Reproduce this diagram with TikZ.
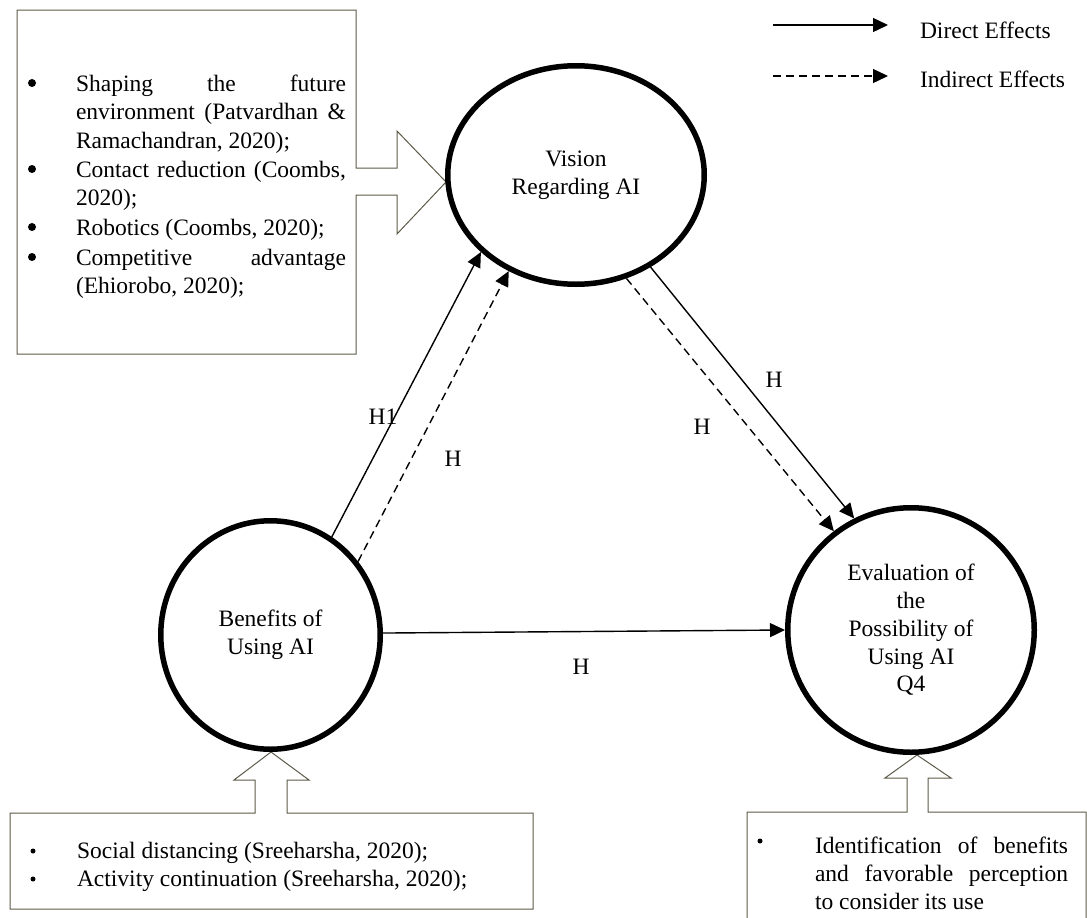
\documentclass[tikz,border=0pt]{standalone}
\usepackage{fontspec}
\setmainfont{Liberation Serif}
\usetikzlibrary{shapes.geometric,arrows.meta}
\definecolor{boxline}{HTML}{5E5A48}
\begin{document}
\begin{tikzpicture}[x=1pt,y=-1pt,
  every node/.style={inner sep=0pt, outer sep=0pt},
  txt/.style={font=\fontsize{23.5}{27.5}\selectfont, anchor=base west},
  bigbullet/.style={circle, fill=black, minimum size=8pt},
  smallbullet/.style={circle, fill=black, minimum size=5pt},
  construct/.style={ellipse, draw, line width=5.5pt, outer sep=2.75pt, align=center,
    font=\fontsize{23.5}{27.7}\selectfont},
  callout/.style={draw=boxline, line width=1pt, line join=miter},
  conn/.style={line width=1.4pt, -{Triangle[length=15pt,width=14pt]}},
  indirect/.style={conn, dash pattern=on 8pt off 5pt},
  lbl/.style={font=\fontsize{23.5}{27.5}\selectfont},
]
\fill[white] (0,0) rectangle (1087,918);
\useasboundingbox (0,0) rectangle (1087,918);

% callout boxes with block arrows
\draw[callout] (17,10) -- (356,10) -- (356,168) -- (397,168) -- (397,131) -- (446,182)
  -- (397,234) -- (397,195) -- (356,195) -- (356,354) -- (17,354) -- cycle;
\draw[callout] (10,813) -- (255,813) -- (255,780) -- (234,780) -- (271,752) -- (309,780)
  -- (287,780) -- (287,813) -- (533,813) -- (533,909) -- (10,909) -- cycle;
\draw[callout] (747,930) -- (747,812) -- (907,812) -- (907,778) -- (885,778) -- (917,755)
  -- (951,778) -- (928,778) -- (928,812) -- (1086,812) -- (1086,930);

% top-left box text
\node[bigbullet] (tb1) at (32,83) {};
\node[bigbullet] (tb2) at (32,169) {};
\node[bigbullet] (tb3) at (32,227) {};
\node[bigbullet] (tb4) at (32,257) {};
\node[txt] (tl1) at (76,91) {\makebox[270pt][s]{Shaping the future}};
\node[txt] (tl2) at (76,119) {\makebox[270pt][s]{environment (Patvardhan \&}};
\node[txt] (tl3) at (76,148) {Ramachandran, 2020);};
\node[txt] (tl4) at (76,177) {\makebox[270pt][s]{Contact reduction (Coombs,}};
\node[txt] (tl5) at (76,205) {2020);};
\node[txt] (tl6) at (76,235) {Robotics (Coombs, 2020);};
\node[txt] (tl7) at (76,265) {\makebox[270pt][s]{Competitive advantage}};
\node[txt] (tl8) at (76,293) {(Ehiorobo, 2020);};

% bottom-left box text
\node[smallbullet] (bb1) at (33,851) {};
\node[smallbullet] (bb2) at (33,879) {};
\node[txt] (bl1) at (77,858) {Social distancing (Sreeharsha, 2020);};
\node[txt] (bl2) at (77,886) {Activity continuation (Sreeharsha, 2020);};

% bottom-right box text
\node[smallbullet] (rb1) at (760,841) {};
\node[txt] (rl1) at (815,853) {\makebox[253pt][s]{Identification of benefits}};
\node[txt] (rl2) at (815,881) {\makebox[253pt][s]{and favorable perception}};
\node[txt] (rl3) at (815,909) {to consider its use};

% constructs
\node[construct, minimum width=256.5pt, minimum height=218.5pt] (vis) at (576,175) {Vision\\Regarding AI};
\node[construct, minimum width=219.5pt, minimum height=228.5pt] (ben) at (270.5,635) {Benefits of\\Using AI};
\node[construct, minimum width=246.5pt, minimum height=244.5pt] (eva) at (911,630) {Evaluation of\\the\\Possibility of\\Using AI\\Q4};

% connectors
\draw[conn] (ben.58.9) -- (vis.219.8);
\draw[indirect] (ben.40.1) -- (vis.235.4);
\draw[conn] (vis.309.4) -- (eva.117.8);
\draw[indirect] (vis.296.8) -- (eva.128.2);
\draw[conn] (ben.1.5) -- (eva.180);

% labels
\node[lbl] (h1) at (383,417) {H1};
\node[lbl] (h2) at (453,459) {H};
\node[lbl] (h3) at (774,380) {H};
\node[lbl] (h4) at (702,427) {H};
\node[lbl] (h5) at (581,667) {H};

% legend
\coordinate (d1) at (773,25);
\coordinate (d2) at (888,25);
\coordinate (i1) at (773,76);
\coordinate (i2) at (888,76);
\draw[conn] (d1) -- (d2);
\draw[indirect] (i1) -- (i2);
\node[txt] (dl) at (920,38) {Direct Effects};
\node[txt] (il) at (920,87) {Indirect Effects};
\end{tikzpicture}
\end{document}
